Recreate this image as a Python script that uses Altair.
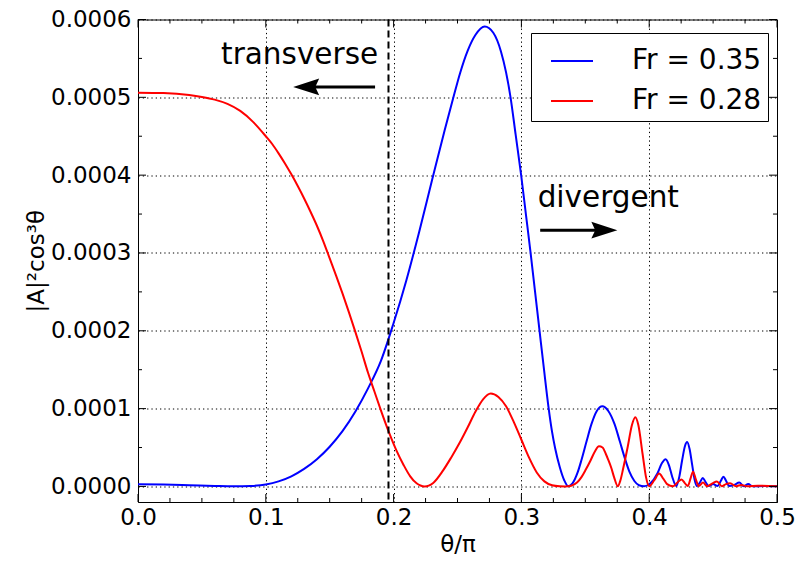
import altair as alt
import pandas as pd

# ---- data (amplitudes in units of 1e-6) ----
theta_b = [0.000, 0.020, 0.040, 0.060, 0.075, 0.088, 0.100, 0.110, 0.120, 0.130,
           0.140, 0.150, 0.160, 0.170, 0.180, 0.190, 0.200, 0.210, 0.220, 0.230,
           0.240, 0.2468, 0.252, 0.258, 0.264, 0.2713, 0.278, 0.284, 0.288, 0.2915,
           0.2955, 0.2998, 0.3035, 0.3072, 0.3107, 0.3142, 0.3177, 0.3212, 0.3240, 0.3264,
           0.3300, 0.3335, 0.3367, 0.3400, 0.3440, 0.3470, 0.3510, 0.3548, 0.3590, 0.3633,
           0.3680, 0.3729, 0.3770, 0.3806, 0.3845, 0.3884, 0.3920, 0.3960, 0.4010, 0.4065,
           0.4100, 0.4129, 0.4155, 0.4180, 0.4212, 0.4235, 0.4258, 0.4280, 0.4297, 0.4316,
           0.4336, 0.4355, 0.4374, 0.4400, 0.4419, 0.4440, 0.4465, 0.4500, 0.4535, 0.4560,
           0.4581, 0.4602, 0.4625, 0.4665, 0.4705, 0.4740, 0.4775, 0.4810, 0.4900, 0.5000]
amp_b_micro = [2.8, 2.5, 1.6, 0.6, 0.1, 0.6, 2.5, 6.5, 13, 22.5,
               35, 51, 71, 96, 126, 161, 210, 265, 327, 393,
               458, 500, 531, 560, 580, 591, 583, 559, 532, 500,
               452, 400, 350, 300, 250, 200, 150, 102, 70, 49,
               25, 8, 0.3, 4, 18, 34, 58, 80, 97, 103,
               97, 80, 58, 38, 19, 7, 1.5, 0.2, 4, 17,
               30, 35, 27, 12.5, 0.5, 12, 34, 52, 57, 48,
               28, 9, 0.5, 6, 11, 6, 0.5, 3, 0.5, 7,
               12.5, 7, 0.5, 2, 5, 0.3, 3, 0.2, 0.5, 0.2]

theta_r = [0.000, 0.020, 0.040, 0.050, 0.060, 0.070, 0.080, 0.090, 0.100, 0.105,
           0.110, 0.115, 0.120, 0.125, 0.130, 0.135, 0.140, 0.145, 0.150, 0.155,
           0.160, 0.165, 0.170, 0.175, 0.180, 0.185, 0.190, 0.196, 0.202, 0.208,
           0.213, 0.218, 0.221, 0.2243, 0.2275, 0.231, 0.2385, 0.245, 0.252, 0.258,
           0.264, 0.270, 0.276, 0.282, 0.288, 0.294, 0.300, 0.306, 0.312, 0.318,
           0.324, 0.330, 0.3341, 0.3390, 0.3435, 0.3470, 0.3505, 0.3540, 0.3575, 0.3607,
           0.3635, 0.3660, 0.3680, 0.3703, 0.3725, 0.3754, 0.3775, 0.3795, 0.3832, 0.3865,
           0.3891, 0.3915, 0.3948, 0.3975, 0.4000, 0.4040, 0.4078, 0.4110, 0.4140, 0.4188,
           0.4220, 0.4253, 0.4280, 0.4302, 0.4323, 0.4343, 0.4365, 0.4388, 0.4421, 0.4453,
           0.4495, 0.4530, 0.4568, 0.4600, 0.4633, 0.4680, 0.4720, 0.4770, 0.4850, 0.5000]
amp_r_micro = [506, 505.5, 503, 500.5, 497, 491.5, 482.5, 468.5, 450, 440,
               428, 415, 401, 386, 370, 353, 335, 315, 293, 271,
               248, 224, 199, 173, 146, 122, 98, 71, 47, 27,
               13, 4, 1.2, 0, 1, 4.5, 20, 37, 57, 76,
               96, 112, 119.5, 115, 103, 83, 60, 37, 18, 6.5,
               1.5, 0.2, 0, 1, 5, 12, 22, 33, 45, 51.5,
               50, 42, 34, 24, 12, 0.3, 8, 22, 51, 79,
               89, 79, 42, 12, 0.3, 8, 16.5, 10, 3, 0.2,
               5, 9, 4, 0.5, 10, 19, 9, 0.5, 5, 0.3,
               4, 6.5, 0.3, 3, 4, 0.3, 2, 0.2, 1, 0.2]
MICRO = 1e-6

SERIES = ["Fr = 0.35", "Fr = 0.28"]
COLORS = ["#0000ff", "#ff0000"]

x_major = [0.0, 0.1, 0.2, 0.3, 0.4, 0.5]
x_minor = [0.025, 0.05, 0.075, 0.125, 0.15, 0.175, 0.225, 0.25, 0.275,
           0.325, 0.35, 0.375, 0.425, 0.45, 0.475]
y_major = [0.0, 0.0001, 0.0002, 0.0003, 0.0004, 0.0005, 0.0006]
y_minor = [0.00005, 0.00015, 0.00025, 0.00035, 0.00045, 0.00055]

dashed_x = [0.196]
ann_labels = ["transverse", "divergent"]
ann_x = [0.0650, 0.3127]
ann_y = [0.000543, 0.0003587]
arrow_x0 = [0.1855, 0.3147]
arrow_x1 = [0.1316, 0.3649]
arrow_y = [0.0005134, 0.0003293]

W, H = 639, 482.5
FONT = "DejaVu Sans"

xs = alt.Scale(domain=[0, 0.5], nice=False, zero=False)
ys = alt.Scale(domain=[-0.00002, 0.0006], nice=False, zero=False)
xaxis = alt.Axis(values=x_major, format=".1f", grid=True, ticks=False, domain=False,
                 labelPadding=4, titlePadding=4, labelFlush=False)
yaxis = alt.Axis(values=y_major, format=".4f", grid=True, ticks=False, domain=False,
                 labelPadding=7, titlePadding=2)


def X(field="theta"):
    return alt.X(f"{field}:Q", scale=xs, axis=xaxis, title="θ/π")


def Y(field="val"):
    return alt.Y(f"{field}:Q", scale=ys, axis=yaxis, title="|A|²cos³θ")


color = alt.Color(
    "series:N",
    scale=alt.Scale(domain=SERIES, range=COLORS),
    title=None,
    legend=alt.Legend(orient="none", legendX=393, legendY=13.5, symbolType="stroke",
                      symbolSize=1764, symbolStrokeWidth=2, labelFontSize=28,
                      labelFont=FONT, labelColor="black", labelOffset=38, padding=6,
                      rowPadding=4, strokeColor="black", fillColor="white",
                      symbolOffset=13),
)

df_b = pd.DataFrame({"theta": theta_b, "val": [v * MICRO for v in amp_b_micro],
                     "series": SERIES[0]})
df_r = pd.DataFrame({"theta": theta_r, "val": [v * MICRO for v in amp_r_micro],
                     "series": SERIES[1]})

blue = alt.Chart(df_b).mark_line(strokeWidth=2, interpolate="monotone").encode(
    x=X(), y=Y(), color=color)
red = alt.Chart(df_r).mark_line(strokeWidth=2, interpolate="monotone").encode(
    x=X(), y=Y(), color=color)

dashed = alt.Chart(pd.DataFrame({"theta": dashed_x})).mark_rule(
    color="black", strokeWidth=2, strokeDash=[7, 4]).encode(x=X())


def xticks(vals, length, top):
    df = pd.DataFrame({"theta": vals})
    if top:
        return alt.Chart(df).mark_rule(color="black", strokeWidth=1).encode(
            x=X(), y=alt.value(0), y2=alt.value(length))
    return alt.Chart(df).mark_rule(color="black", strokeWidth=1).encode(
        x=X(), y=alt.value(H), y2=alt.value(H - length))


def yticks(vals, length, right):
    df = pd.DataFrame({"val": vals})
    if right:
        return alt.Chart(df).mark_rule(color="black", strokeWidth=1).encode(
            y=Y(), x=alt.value(W), x2=alt.value(W - length))
    return alt.Chart(df).mark_rule(color="black", strokeWidth=1).encode(
        y=Y(), x=alt.value(0), x2=alt.value(length))


ticks = [xticks(x_major, 8, False), xticks(x_major, 8, True),
         xticks(x_minor, 4, False), xticks(x_minor, 4, True),
         yticks(y_major, 8, False), yticks(y_major, 8, True),
         yticks(y_minor, 4, False), yticks(y_minor, 4, True)]

df_ann = pd.DataFrame({"theta": ann_x, "val": ann_y, "label": ann_labels})
texts = alt.Chart(df_ann).mark_text(align="left", baseline="alphabetic", fontSize=29.5,
                                    font=FONT, color="black").encode(
    x=X(), y=Y(), text="label:N")

df_arr = pd.DataFrame({"theta": arrow_x0, "theta2": arrow_x1, "val": arrow_y})
shafts = alt.Chart(df_arr).mark_rule(color="black", strokeWidth=3).encode(
    x=X(), x2=alt.X2("theta2:Q"), y=Y())

PATH_L = "M-1,0 L1,-0.65 L0.7,0 L1,0.65 Z"
PATH_R = "M1,0 L-1,-0.65 L-0.7,0 L-1,0.65 Z"
head_l = alt.Chart(pd.DataFrame({"theta": [arrow_x1[0]], "val": [arrow_y[0]]})).mark_point(
    shape=PATH_L, size=676, filled=True, color="black", opacity=1, strokeWidth=0).encode(
    x=X(), y=Y())
head_r = alt.Chart(pd.DataFrame({"theta": [arrow_x1[1]], "val": [arrow_y[1]]})).mark_point(
    shape=PATH_R, size=676, filled=True, color="black", opacity=1, strokeWidth=0).encode(
    x=X(), y=Y())

chart = alt.layer(blue, red, dashed, *ticks, texts, shafts, head_l, head_r).properties(
    width=W, height=H,
    autosize=alt.AutoSizeParams(type="none"),
    padding={"left": 130, "top": 11.5, "right": 19, "bottom": 54},
).configure(font=FONT).configure_view(
    stroke="black", strokeWidth=1
).configure_axis(
    labelFontSize=23, titleFontSize=23, titleFontWeight="normal", labelColor="black",
    titleColor="black", labelFont=FONT, titleFont=FONT,
    gridColor="black", gridOpacity=1, gridWidth=1, gridDash=[1.3, 3]
)

chart.save("out.html", embed_options={"renderer": "svg", "actions": False})
